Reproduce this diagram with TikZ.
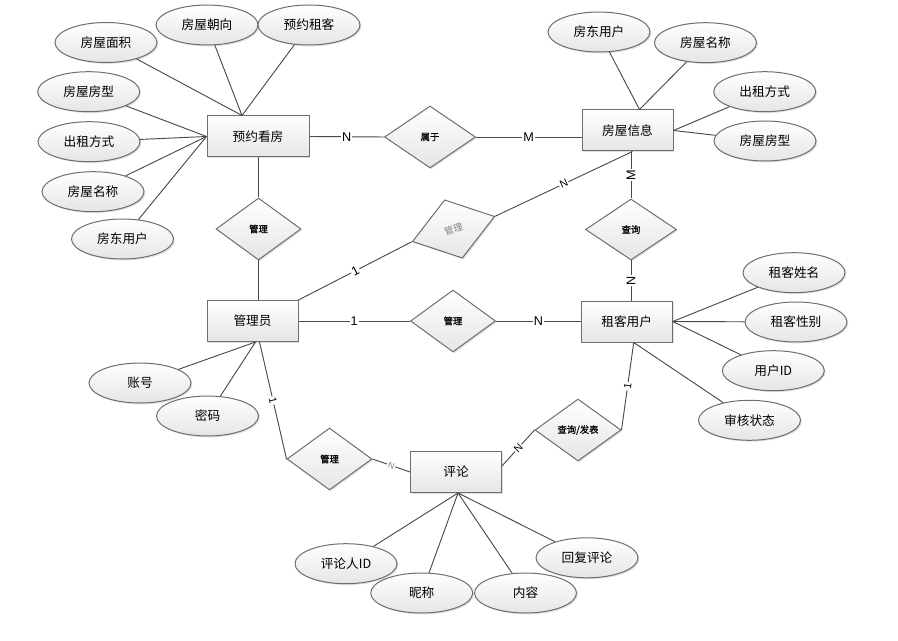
\documentclass[tikz,border=0pt]{standalone}
\usepackage{fontspec}
\setmainfont{Liberation Sans}
\newfontfamily\cjk{Noto Sans CJK SC}
\newfontfamily\cjkb[FakeBold=1]{Noto Sans CJK SC}
\usetikzlibrary{shapes.geometric,shadows,calc}
\definecolor{bd}{HTML}{6E6E6E}
\definecolor{ln}{HTML}{4A4A4A}
\tikzset{
  base/.style={draw=bd, line width=0.75pt, top color=white, bottom color=gray!20,
    drop shadow={shadow xshift=1pt,shadow yshift=-1pt,opacity=0.25}, inner sep=0pt},
  ent/.style={base, rectangle, minimum width=68.25pt, minimum height=30.75pt,
    font=\cjk\fontsize{9.5}{11}\selectfont},
  attr/.style={base, ellipse, minimum width=76.5pt, minimum height=30pt,
    font=\cjk\fontsize{9.5}{11}\selectfont},
  rel/.style={base, diamond, minimum width=63.75pt, minimum height=46.5pt,
    font=\cjkb\fontsize{7}{8}\selectfont},
  conn/.style={draw=ln, line width=0.7pt},
  card/.style={fill=white, inner sep=0.8pt, font=\fontsize{9.5}{10}\selectfont},
  smallcard/.style={card, font=\fontsize{8}{9}\selectfont},
}
\begin{document}
\begin{tikzpicture}[x=0.75pt,y=-0.75pt]
\useasboundingbox (0,0) rectangle (898,641);
% entities
\node[ent, minimum width=76.5pt] (yykf) at (258,136.5) {预约看房};
\node[ent] (fwxx) at (627.5,130.5) {房屋信息};
\node[ent] (gly) at (252.5,321) {管理员};
\node[ent] (zkyh) at (626.7,321.5) {租客用户};
\node[ent] (pl) at (456,472) {评论};
% relations
\node[rel, minimum width=68.25pt] (sy) at (430,137) {属于};
\node[rel] (gl1) at (258.5,229) {管理};
\node[rel, rotate=17, minimum width=64.5pt, minimum height=45.75pt, text=gray,
  font=\cjk\fontsize{7}{8}\selectfont] (gl2) at (453.5,229) {管理};
\node[rel] (gl3) at (453,321) {管理};
\node[rel, minimum width=68.25pt, minimum height=45.75pt] (cx) at (631,229.5) {查询};
\node[rel, minimum width=64.5pt] (cxfb) at (578,430) {查询/发表};
\node[rel] (gl4) at (329.5,459) {管理};
% attributes of 预约看房
\node[attr] (a1) at (106,42.5) {房屋面积};
\node[attr] (a2) at (207,25) {房屋朝向};
\node[attr] (a3) at (309,25) {预约租客};
\node[attr] (a4) at (88.7,91.7) {房屋房型};
\node[attr] (a5) at (89,141.7) {出租方式};
\node[attr] (a6) at (93,191.7) {房屋名称};
\node[attr] (a7) at (122.5,239) {房东用户};
% attributes of 房屋信息
\node[attr] (b1) at (599,32) {房东用户};
\node[attr] (b2) at (705.5,42.7) {房屋名称};
\node[attr] (b3) at (764.7,91.7) {出租方式};
\node[attr] (b4) at (765,141) {房屋房型};
% attributes of 租客用户
\node[attr] (c1) at (794,272.7) {租客姓名};
\node[attr] (c2) at (796,322) {租客性别};
\node[attr] (c3) at (773.3,370.7) {用户ID};
\node[attr] (c4) at (749.5,420.3) {审核状态};
% attributes of 管理员
\node[attr] (d1) at (140,383) {账号};
\node[attr] (d2) at (207.5,416) {密码};
% attributes of 评论
\node[attr] (e1) at (346,563.7) {评论人ID};
\node[attr] (e2) at (421.7,593) {昵称};
\node[attr] (e3) at (525.5,593) {内容};
\node[attr] (e4) at (587,557.8) {回复评论};
% connection points
\coordinate (yt) at ($(yykf.north)+(-16,0)$);
\coordinate (ft) at ($(fwxx.north)+(12,0)$);
\coordinate (fb) at ($(fwxx.south)+(5,0)$);
\coordinate (zb) at ($(zkyh.south)+(7,0)$);
\coordinate (gb) at ($(gly.south)+(3,0)$);
\coordinate (gb2) at ($(gly.south)+(7,0)$);
\coordinate (pb) at ($(pl.south)+(2,0)$);
\coordinate (pr) at ($(pl.east)+(0,-6)$);
% attribute lines
\foreach \a in {a1,a2,a3} \draw[conn] (\a) -- (yt);
\foreach \a in {a4,a5,a6,a7} \draw[conn] (\a) -- (yykf.west);
\foreach \a in {b1,b2} \draw[conn] (\a) -- (ft);
\foreach \a in {b3,b4} \draw[conn] (\a) -- (fwxx.east);
\foreach \a in {c1,c2,c3} \draw[conn] (\a) -- (zkyh.east);
\draw[conn] (c4) -- (zb);
\foreach \a in {d1,d2} \draw[conn] (\a) -- (gb);
\foreach \a in {e1,e2,e3,e4} \draw[conn] (\a) -- (pb);
% relationship lines
\draw[conn] (yykf.east) -- (sy.west) node[midway,card]{N};
\draw[conn] (sy.east) -- (sy.east -| fwxx.west) node[midway,card]{M};
\draw[conn] (yykf.south -| gl1.north) -- (gl1.north);
\draw[conn] (gl1.south) -- (gl1.south |- gly.north);
\draw[conn] (gly.north east) -- (gl2.west) node[midway,card,rotate=27]{1};
\draw[conn] (gl2.east) -- (fb) node[midway,smallcard,rotate=25]{N};
\draw[conn] (gly.east) -- (gl3.west) node[midway,card]{1};
\draw[conn] (gl3.east) -- (gl3.east -| zkyh.west) node[midway,card]{N};
\draw[conn] (cx.north) -- (cx.north |- fwxx.south) node[midway,card,rotate=90]{M};
\draw[conn] (cx.south) -- (cx.south |- zkyh.north) node[midway,card,rotate=90]{N};
\draw[conn] (gb2) -- (gl4.west) node[midway,smallcard,rotate=-76]{1};
\draw[conn] (gl4.east) -- (pl.west) node[midway,smallcard,rotate=-20,text=gray,font=\fontsize{6.5}{7}\selectfont]{N};
\draw[conn] (cxfb.west) -- (pr) node[midway,smallcard,rotate=45]{N};
\draw[conn] (cxfb.east) -- (zb) node[midway,smallcard,rotate=82]{1};
\end{tikzpicture}
\end{document}
